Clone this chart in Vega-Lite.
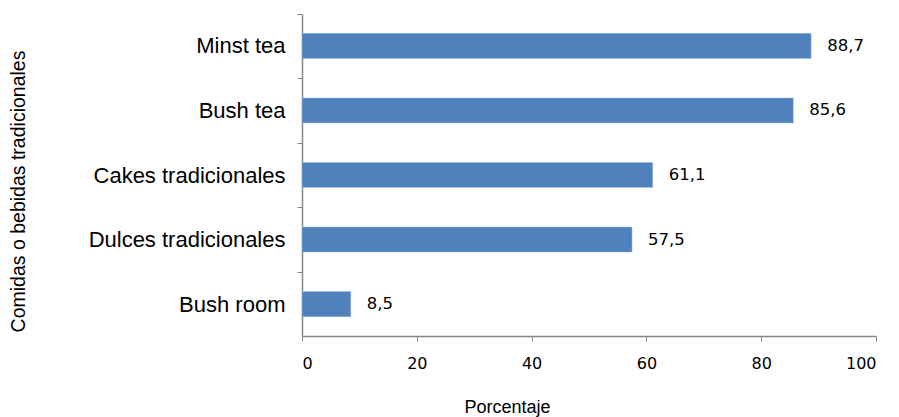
{
  "$schema": "https://vega.github.io/schema/vega-lite/v6.json",
  "width": 574,
  "height": 322,
  "autosize": "none",
  "padding": {"left": 302, "top": 14, "right": 23, "bottom": 81},
  "background": "white",
  "config": {
    "view": {"stroke": null},
    "locale": {"number": {"decimal": ",", "thousands": ".", "grouping": [3], "currency": ["", "€"]}}
  },
  "data": {
    "values": [
      {"categoria": "Minst tea", "porcentaje": 88.7},
      {"categoria": "Bush tea", "porcentaje": 85.6},
      {"categoria": "Cakes tradicionales", "porcentaje": 61.1},
      {"categoria": "Dulces tradicionales", "porcentaje": 57.5},
      {"categoria": "Bush room", "porcentaje": 8.5}
    ]
  },
  "encoding": {
    "y": {
      "field": "categoria",
      "type": "nominal",
      "sort": null,
      "scale": {"paddingInner": 0.61, "paddingOuter": 0.3},
      "axis": {
        "title": "Comidas o bebidas  tradicionales",
        "titleFont": "Liberation Sans",
        "titleFontSize": 19.5,
        "titleFontWeight": "normal",
        "titleColor": "#000000",
        "titleX": -274,
        "titleY": 177,
        "labelFont": "Liberation Sans",
        "labelFontSize": 22,
        "labelColor": "#000000",
        "labelPadding": 12,
        "labelLimit": 0,
        "tickOffset": -32.25,
        "labelOffset": 32.25,
        "tickSize": 5,
        "tickColor": "#888888",
        "domainColor": "#888888",
        "domainWidth": 1.5
      }
    },
    "x": {
      "field": "porcentaje",
      "type": "quantitative",
      "scale": {"domain": [0, 100], "nice": false},
      "axis": {
        "title": "Porcentaje",
        "values": [0, 20, 40, 60, 80, 100],
        "grid": false,
        "titleFont": "Liberation Sans",
        "titleFontSize": 18,
        "titleFontWeight": "normal",
        "titleColor": "#000000",
        "titleX": 205,
        "titlePadding": 27,
        "labelFont": "DejaVu Sans",
        "labelFontSize": 16,
        "labelColor": "#000000",
        "labelPadding": 14,
        "tickSize": 5,
        "tickColor": "#888888",
        "domainColor": "#888888",
        "domainWidth": 1.5
      }
    }
  },
  "layer": [
    {"mark": {"type": "bar", "color": "#4F81BD", "stroke": "#A9C1E0", "strokeWidth": 0.5}},
    {
      "mark": {"type": "text", "align": "left", "dx": 16, "font": "DejaVu Sans", "fontSize": 16.5, "color": "#000000"},
      "encoding": {"text": {"field": "porcentaje", "type": "quantitative", "format": ".1f"}}
    }
  ]
}
